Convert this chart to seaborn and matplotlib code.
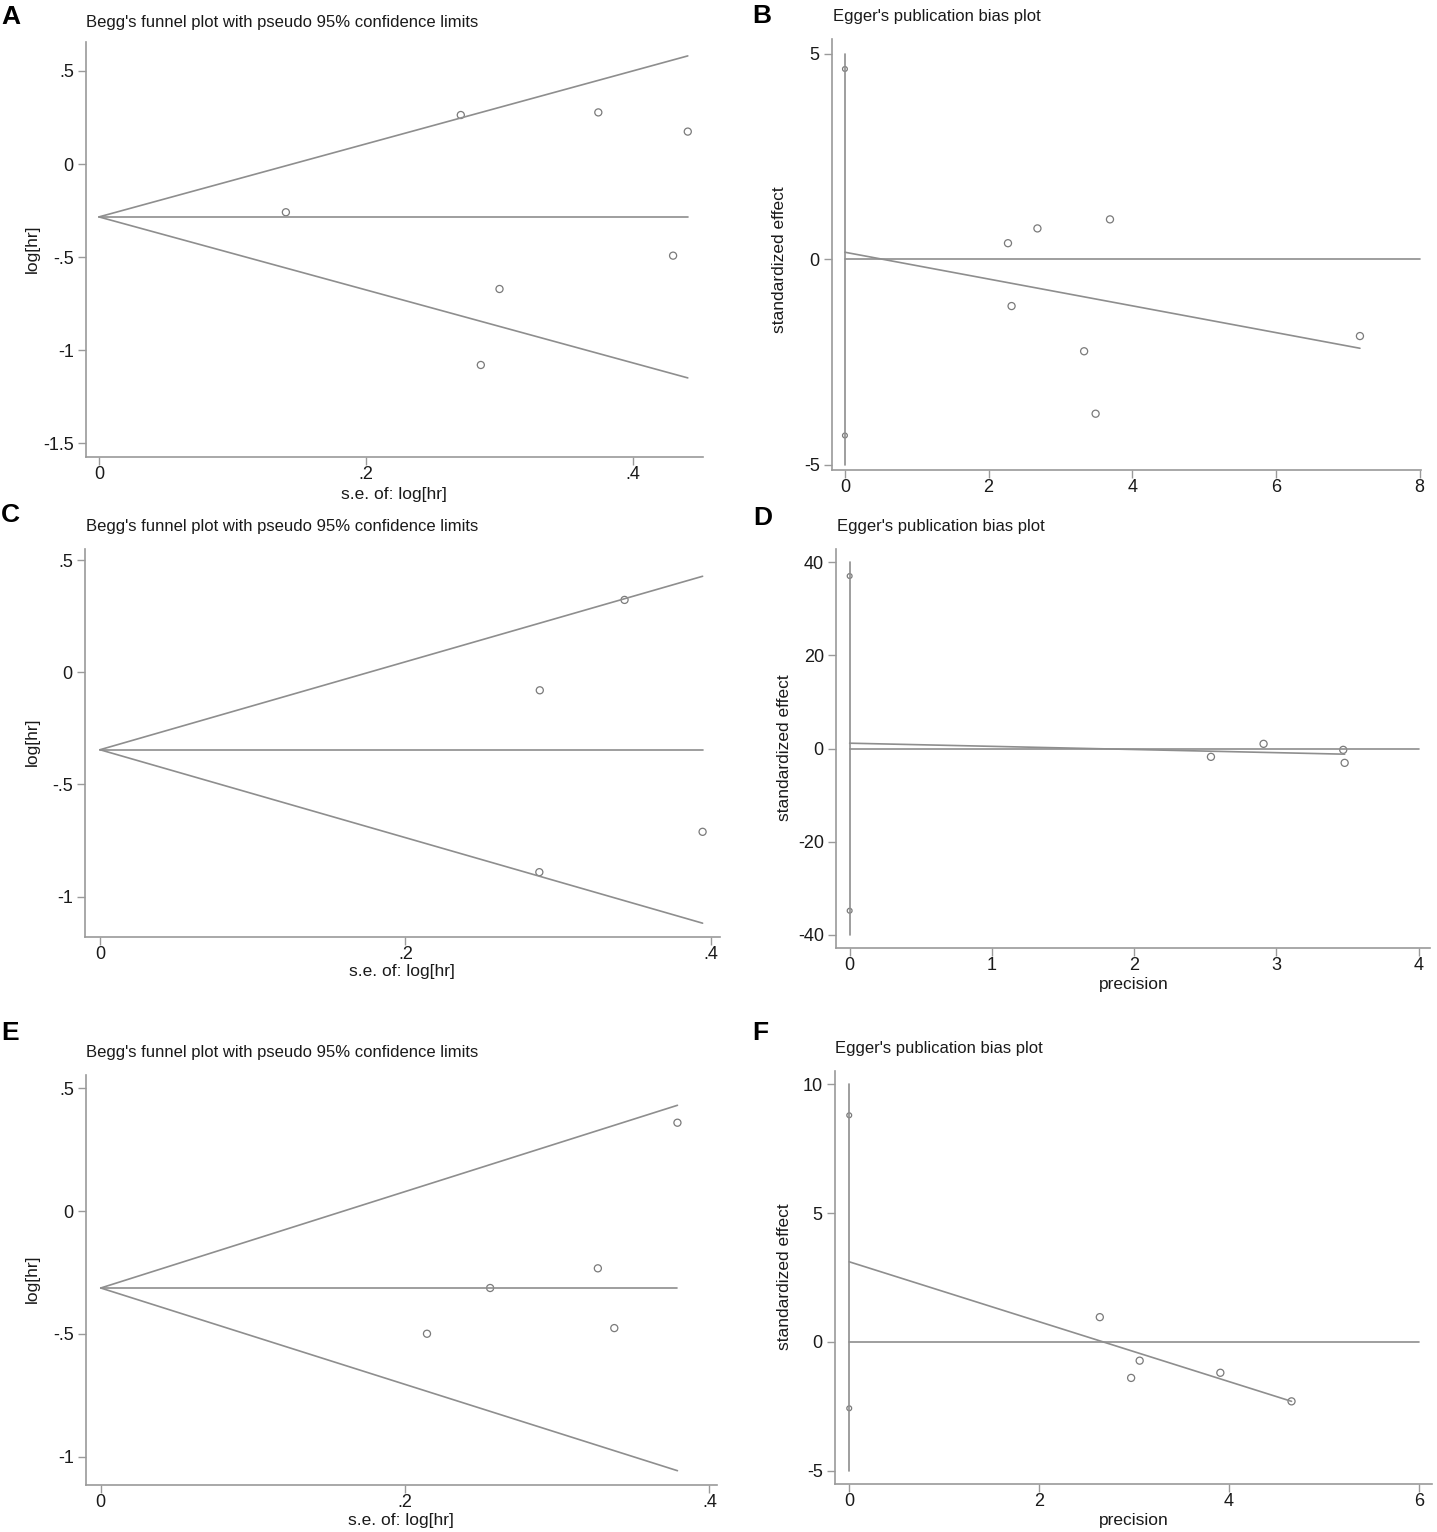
import numpy as np
import seaborn as sns
import matplotlib
matplotlib.use("Agg")
import matplotlib.pyplot as plt

# ---- values ----
# A: Begg's funnel
a_se = [0.140, 0.271, 0.374, 0.441, 0.430, 0.300, 0.286]
a_loghr = [-0.259, 0.263, 0.277, 0.174, -0.492, -0.671, -1.079]
a_pooled = -0.284

# B: Egger
b_precision = [2.27, 2.68, 3.69, 2.32, 3.33, 3.49, 7.17]
b_effect = [0.39, 0.75, 0.97, -1.14, -2.24, -3.76, -1.87]
b_ci = [4.63, -4.29]
b_intercept = 0.17
b_slope = -0.326

# C: Begg's funnel
c_se = [0.288, 0.3435, 0.3946, 0.2877]
c_loghr = [-0.080, 0.323, -0.711, -0.891]
c_pooled = -0.345

# D: Egger
d_precision = [2.54, 2.91, 3.47, 3.48]
d_effect = [-1.79, 1.0, -0.29, -3.08]
d_ci = [37.0, -34.8]
d_intercept = 1.14
d_slope = -0.678

# E: Begg's funnel
e_se = [0.2144, 0.2559, 0.3267, 0.3375, 0.379]
e_loghr = [-0.499, -0.313, -0.233, -0.476, 0.359]
e_pooled = -0.313

# F: Egger
f_precision = [2.64, 3.06, 2.97, 3.91, 4.66]
f_effect = [0.96, -0.73, -1.40, -1.20, -2.31]
f_ci = [8.80, -2.58]
f_intercept = 3.11
f_slope = -1.163

begg_title = "Begg's funnel plot with pseudo 95% confidence limits"
egger_title = "Egger's publication bias plot"

sns.set_style("white")
plt.rcParams['font.family'] = ['Liberation Sans', 'DejaVu Sans']

W, H = 1437, 1532
fig = plt.figure(figsize=(W / 100, H / 100), dpi=100)

LINE = '#8e8e8e'
AXC = '#9a9a9a'
TXT = '#1a1a1a'


def add_ax(l, t, r, b, xlim, ylim, xticks, xlabels, yticks, ylabels):
    ax = fig.add_axes([l / W, 1 - b / H, (r - l) / W, (b - t) / H])
    ax.set_xlim(xlim)
    ax.set_ylim(ylim)
    for s in ['top', 'right']:
        ax.spines[s].set_visible(False)
    for s in ['left', 'bottom']:
        ax.spines[s].set_color(AXC)
        ax.spines[s].set_linewidth(1.2)
    ax.set_xticks(xticks)
    ax.set_xticklabels(xlabels)
    ax.set_yticks(yticks)
    ax.set_yticklabels(ylabels)
    ax.tick_params(axis='both', direction='out', length=5.8, width=1,
                   color=AXC, labelcolor=TXT, labelsize=13,
                   bottom=True, left=True, top=False, right=False)
    ax.tick_params(axis='x', pad=0.5)
    ax.tick_params(axis='y', pad=3)
    ax.patch.set_alpha(0)
    return ax


def px(x, y):
    return x / W, 1 - y / H


def funnel(ax, se, loghr, pooled):
    smax = max(se)
    ax.plot([0, smax], [pooled, pooled + 1.96 * smax], color=LINE, lw=1.2)
    ax.plot([0, smax], [pooled, pooled - 1.96 * smax], color=LINE, lw=1.2)
    ax.plot([0, smax], [pooled, pooled], color=LINE, lw=1.2)
    sns.scatterplot(x=se, y=loghr, ax=ax, marker='o', s=26,
                    facecolor='none', edgecolor='#7a7a7a', linewidth=0.9)


def egger(ax, prec, eff, ci, a, b, yspan, xend):
    ax.plot([0, 0], yspan, color=LINE, lw=1.2)
    ax.plot([0, xend], [0, 0], color=LINE, lw=1.2)
    pmax = max(prec)
    ax.plot([0, pmax], [a, a + b * pmax], color=LINE, lw=1.2)
    sns.scatterplot(x=[0, 0], y=ci, ax=ax, marker='o', s=12,
                    facecolor='none', edgecolor='#7a7a7a', linewidth=0.9)
    sns.scatterplot(x=prec, y=eff, ax=ax, marker='o', s=26,
                    facecolor='none', edgecolor='#7a7a7a', linewidth=0.9)


def label(x, y, s, color=TXT, **kw):
    fx, fy = px(x, y)
    fig.text(fx, fy, s, color=color, **kw)


se_ticks = [0, 0.2, 0.4]
se_labels = ['0', '.2', '.4']

# A
ax = add_ax(86, 42, 703, 457, (-0.0097, 0.4524), (-1.573, 0.655),
            se_ticks, se_labels, [-1.5, -1, -0.5, 0, 0.5],
            ['-1.5', '-1', '-.5', '0', '.5'])
funnel(ax, a_se, a_loghr, a_pooled)

# B
ax = add_ax(832, 39, 1421, 470, (-0.18, 8.02), (-5.13, 5.36),
            [0, 2, 4, 6, 8], ['0', '2', '4', '6', '8'], [-5, 0, 5],
            ['-5', '0', '5'])
egger(ax, b_precision, b_effect, b_ci, b_intercept, b_slope, [-5, 5], 8)

# C
ax = add_ax(85, 549, 720, 937, (-0.0098, 0.406), (-1.18, 0.55),
            se_ticks, se_labels, [-1, -0.5, 0, 0.5], ['-1', '-.5', '0', '.5'])
funnel(ax, c_se, c_loghr, c_pooled)

# D
ax = add_ax(836, 549, 1430, 948, (-0.096, 4.08), (-42.8, 42.8),
            [0, 1, 2, 3, 4], ['0', '1', '2', '3', '4'],
            [-40, -20, 0, 20, 40], ['-40', '-20', '0', '20', '40'])
egger(ax, d_precision, d_effect, d_ci, d_intercept, d_slope, [-40, 40], 4)

# E
ax = add_ax(86, 1075, 717, 1485, (-0.0097, 0.405), (-1.114, 0.553),
            se_ticks, se_labels, [-1, -0.5, 0, 0.5], ['-1', '-.5', '0', '.5'])
funnel(ax, e_se, e_loghr, e_pooled)

# F
ax = add_ax(835, 1071, 1432, 1484, (-0.15, 6.14), (-5.52, 10.52),
            [0, 2, 4, 6], ['0', '2', '4', '6'], [-5, 0, 5, 10],
            ['-5', '0', '5', '10'])
egger(ax, f_precision, f_effect, f_ci, f_intercept, f_slope, [-5, 10], 6)

# panel letters
for s, x, y in [('A', 1, 17), ('B', 752, 16), ('C', 1, 515),
                ('D', 753, 518), ('E', 1, 1033), ('F', 752, 1033)]:
    label(x, y, s, color='black', fontsize=19, fontweight='bold',
          ha='left', va='center')

# titles
for s, x, y in [(begg_title, 86, 22), (egger_title, 833, 17),
                (begg_title, 86, 527), (egger_title, 837, 527),
                (begg_title, 86, 1053), (egger_title, 835, 1049)]:
    label(x, y, s, fontsize=12, ha='left', va='center')

# axis titles
for s, x, y in [('s.e. of: log[hr]', 394, 494), ('s.e. of: log[hr]', 402, 972),
                ('precision', 1134, 984), ('s.e. of: log[hr]', 401, 1521),
                ('precision', 1134, 1521)]:
    label(x, y, s, fontsize=12.5, ha='center', va='center')

for s, x, y in [('log[hr]', 32, 249), ('standardized effect', 780, 260),
                ('log[hr]', 32, 742), ('standardized effect', 784, 748),
                ('log[hr]', 32, 1279), ('standardized effect', 784, 1277)]:
    label(x, y, s, fontsize=12.5, ha='center', va='center', rotation=90)

fig.savefig('out.png', dpi=100, facecolor='white')
